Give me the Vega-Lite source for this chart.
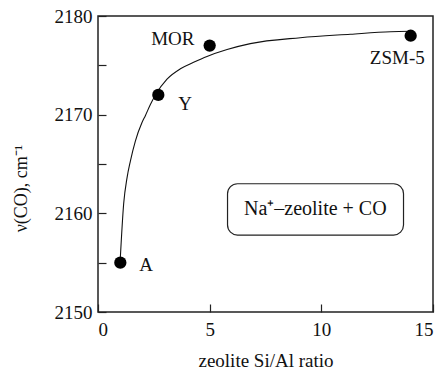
{
  "$schema": "https://vega.github.io/schema/vega-lite/v6.json",
  "autosize": {"type": "none"},
  "padding": {"left": 98, "top": 16, "right": 8, "bottom": 57},
  "width": 335,
  "height": 296,
  "background": "white",
  "config": {
    "font": "Liberation Serif",
    "view": {"stroke": "#222", "strokeWidth": 1.5},
    "axis": {
      "grid": false,
      "domain": false,
      "tickColor": "#222",
      "tickSize": -8,
      "tickWidth": 1.2,
      "labelFont": "Liberation Serif",
      "labelFontSize": 19,
      "labelColor": "#111",
      "titleFont": "Liberation Serif",
      "titleFontSize": 18,
      "titleFontWeight": "normal",
      "titleColor": "#111"
    }
  },
  "datasets": {
    "pts": [
      {"ratio": 1.0, "nu": 2155, "name": "A"},
      {"ratio": 2.7, "nu": 2172, "name": "Y"},
      {"ratio": 5.0, "nu": 2177, "name": "MOR"},
      {"ratio": 14.0, "nu": 2178, "name": "ZSM-5"}
    ],
    "curve": [
      {"ratio": 1.0, "nu": 2155.5},
      {"ratio": 1.15, "nu": 2161.0},
      {"ratio": 1.3, "nu": 2163.6},
      {"ratio": 1.45, "nu": 2165.3},
      {"ratio": 1.67, "nu": 2167.3},
      {"ratio": 1.97, "nu": 2169.2},
      {"ratio": 2.12, "nu": 2169.9},
      {"ratio": 2.34, "nu": 2171.0},
      {"ratio": 2.57, "nu": 2172.0},
      {"ratio": 3.09, "nu": 2173.6},
      {"ratio": 3.69, "nu": 2174.65},
      {"ratio": 4.28, "nu": 2175.3},
      {"ratio": 4.88, "nu": 2175.9},
      {"ratio": 5.78, "nu": 2176.6},
      {"ratio": 6.82, "nu": 2177.2},
      {"ratio": 9.06, "nu": 2177.8},
      {"ratio": 11.3, "nu": 2178.15},
      {"ratio": 13.1, "nu": 2178.4},
      {"ratio": 14.0, "nu": 2178.45}
    ],
    "labels": [
      {"lx": 3.35, "ly": 2177.1, "text": "MOR"},
      {"lx": 13.4, "ly": 2175.1, "text": "ZSM-5"},
      {"lx": 3.9, "ly": 2170.5, "text": "Y"},
      {"lx": 2.15, "ly": 2154.2, "text": "A"}
    ],
    "box": [
      {"x1": 5.8, "x2": 13.68, "y1": 2157.8, "y2": 2163.0, "cx": 9.73, "cy": 2160.4, "text": "Na⁺–zeolite + CO"}
    ]
  },
  "layer": [
    {
      "data": {"name": "box"},
      "mark": {"type": "rect", "fill": "white", "stroke": "#222", "strokeWidth": 1.2, "cornerRadius": 10},
      "encoding": {
        "x": {"field": "x1", "type": "quantitative", "scale": {"domain": [0, 15]}},
        "x2": {"field": "x2"},
        "y": {"field": "y1", "type": "quantitative", "scale": {"domain": [2150, 2180]}},
        "y2": {"field": "y2"}
      }
    },
    {
      "data": {"name": "box"},
      "mark": {"type": "text", "fontSize": 20, "font": "Liberation Serif", "color": "#111", "align": "center", "baseline": "middle"},
      "encoding": {
        "x": {"field": "cx", "type": "quantitative"},
        "y": {"field": "cy", "type": "quantitative"},
        "text": {"field": "text"}
      }
    },
    {
      "data": {"name": "curve"},
      "mark": {"type": "line", "color": "#111", "strokeWidth": 1.1, "interpolate": "monotone"},
      "encoding": {
        "x": {"field": "ratio", "type": "quantitative"},
        "y": {"field": "nu", "type": "quantitative"}
      }
    },
    {
      "data": {"name": "pts"},
      "mark": {"type": "point", "shape": "circle", "filled": true, "color": "#000", "opacity": 1, "size": 150},
      "encoding": {
        "x": {
          "field": "ratio", "type": "quantitative",
          "scale": {"domain": [0, 15], "nice": false},
          "axis": {"values": [0, 5, 10, 15], "format": "d", "labelPadding": 16, "title": "zeolite Si/Al ratio", "titleY": 54, "titleBaseline": "alphabetic", "titleFontSize": 19}
        },
        "y": {
          "field": "nu", "type": "quantitative",
          "scale": {"domain": [2150, 2180], "nice": false, "zero": false},
          "axis": {"values": [2150, 2155, 2160, 2165, 2170, 2175, 2180], "format": "d", "labelExpr": "datum.value % 10 === 0 ? datum.label : ''", "labelPadding": 14, "title": "ν(CO), cm⁻¹", "titleAngle": -90, "titleX": -77, "titleY": 172, "titleAlign": "center", "titleBaseline": "middle"}
        }
      }
    },
    {
      "data": {"name": "labels"},
      "mark": {"type": "text", "fontSize": 19, "font": "Liberation Serif", "color": "#111", "align": "center", "baseline": "alphabetic"},
      "encoding": {
        "x": {"field": "lx", "type": "quantitative"},
        "y": {"field": "ly", "type": "quantitative"},
        "text": {"field": "text"}
      }
    }
  ]
}
